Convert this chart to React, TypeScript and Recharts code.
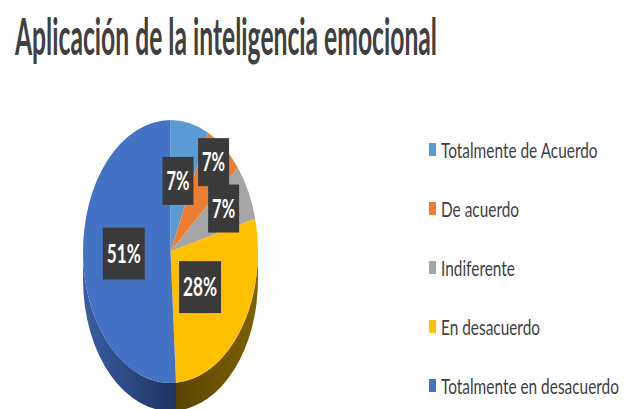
import { PieChart, Pie, Cell, Legend } from 'recharts';

const categories = [
  'Totalmente de Acuerdo',
  'De acuerdo',
  'Indiferente',
  'En desacuerdo',
  'Totalmente en desacuerdo',
];
const values = [7, 7, 7, 28, 51];
const colors = ['#5B9BD5', '#ED7D31', '#A5A5A5', '#FFC000', '#4472C4'];
const sideColors = ['#3f6f9c', '#a8561f', '#777777', 'url(#sideYellow)', 'url(#sideBlue)'];
// how far out (fraction of radius) each data label sits, Excel nudges the small ones apart
const labelRadius = [0.55, 0.86, 0.72, 0.46, 0.5];

const data = categories.map((name, i) => ({ name, value: values[i] }));

const RAD = Math.PI / 180;
const ASPECT = 0.665; // horizontal squash of the tilted pie
const DEPTH = 28;
const TITLE_SQUASH = 0.5;

function pt(cx: number, cy: number, r: number, a: number, dy = 0) {
  return `${cx + r * ASPECT * Math.cos(a * RAD)},${cy + dy - r * Math.sin(a * RAD)}`;
}

function TopSector(props: any) {
  const { cx, cy, outerRadius: r, startAngle, endAngle, fill } = props;
  const large = Math.abs(startAngle - endAngle) > 180 ? 1 : 0;
  const d = `M${cx},${cy} L${pt(cx, cy, r, startAngle)} A${r * ASPECT},${r} 0 ${large} 1 ${pt(cx, cy, r, endAngle)} Z`;
  return <path d={d} fill={fill} stroke="none" />;
}

function SideSector(props: any) {
  const { cx, cy, outerRadius: r, startAngle, endAngle, fill } = props;
  const s = Math.min(startAngle, 0);
  const e = Math.max(endAngle, -180);
  if (s <= e) return <g />;
  const rx = r * ASPECT;
  const d =
    `M${pt(cx, cy, r, s)} A${rx},${r} 0 0 1 ${pt(cx, cy, r, e)} ` +
    `L${pt(cx, cy, r, e, DEPTH)} A${rx},${r} 0 0 0 ${pt(cx, cy, r, s, DEPTH)} Z`;
  return <path d={d} fill={fill} stroke="none" />;
}

function renderLabel(props: any) {
  const { cx, cy, midAngle, outerRadius, percent, index } = props;
  const f = labelRadius[index];
  const x = cx + outerRadius * ASPECT * f * Math.cos(midAngle * RAD) - 3;
  const y = cy - outerRadius * f * Math.sin(midAngle * RAD);
  const text = `${Math.round(percent * 100)}%`;
  const w = text.length * 11 + 9;
  const h = percent < 0.1 ? 48 : 52;
  return (
    <g>
      <rect x={x - w / 2} y={y - h / 2} width={w} height={h} fill="#3a3a3a" />
      <text
        x={x}
        y={y + 9}
        textAnchor="middle"
        fill="#ffffff"
        fontFamily="Lato, 'Open Sans', sans-serif"
        fontWeight={700}
        fontSize={26}
        textLength={w - 8}
        lengthAdjust="spacingAndGlyphs"
      >
        {text}
      </text>
    </g>
  );
}

function LegendContent() {
  return (
    <div>
      {categories.map((c, i) => (
        <div key={c} style={{ display: 'flex', alignItems: 'center', height: 59 }}>
          <div style={{ width: 7, height: 13, background: colors[i], marginRight: 5, flexShrink: 0 }} />
          <span
            style={{
              fontFamily: 'Lato, sans-serif',
              fontSize: 22,
              color: '#404040',
              whiteSpace: 'nowrap',
              display: 'inline-block',
              transform: 'scaleX(0.7)',
              transformOrigin: 'left center',
            }}
          >
            {c}
          </span>
        </div>
      ))}
    </div>
  );
}

export default function App() {
  return (
    <div style={{ position: 'absolute', left: 0, top: 0, width: 625, height: 409, background: '#ffffff', overflow: 'hidden' }}>
      <svg width={625} height={75} style={{ position: 'absolute', left: 0, top: 0 }}>
        <g transform={`translate(15,55) scale(${TITLE_SQUASH},1)`}>
          <text
            x={0}
            y={0}
            fill="#404040"
            fontFamily="Lato, 'Open Sans', sans-serif"
            fontWeight={700}
            fontSize={52}
            textLength={422 / TITLE_SQUASH}
            lengthAdjust="spacingAndGlyphs"
          >
            Aplicación de la inteligencia emocional
          </text>
        </g>
      </svg>
      <div style={{ position: 'absolute', left: 0, top: 0 }}>
        <PieChart width={625} height={409}>
          <defs>
            <linearGradient id="sideBlue" x1="0" y1="0" x2="1" y2="0">
              <stop offset="0%" stopColor="#3a5fa3" />
              <stop offset="100%" stopColor="#1c3260" />
            </linearGradient>
            <linearGradient id="sideYellow" x1="0" y1="0" x2="1" y2="0">
              <stop offset="0%" stopColor="#5a4400" />
              <stop offset="100%" stopColor="#7f6000" />
            </linearGradient>
          </defs>
          <Pie
            data={data}
            dataKey="value"
            nameKey="name"
            cx={165.5}
            cy={246.5}
            outerRadius={131.5}
            startAngle={90}
            endAngle={-270}
            shape={SideSector}
            legendType="none"
            isAnimationActive={false}
          >
            {data.map((d, i) => (
              <Cell key={d.name} fill={sideColors[i]} />
            ))}
          </Pie>
          <Pie
            data={data}
            dataKey="value"
            nameKey="name"
            cx={165.5}
            cy={246.5}
            outerRadius={131.5}
            startAngle={90}
            endAngle={-270}
            shape={TopSector}
            label={renderLabel}
            labelLine={false}
            isAnimationActive={false}
          >
            {data.map((d, i) => (
              <Cell key={d.name} fill={colors[i]} />
            ))}
          </Pie>
          <Legend
            layout="vertical"
            align="right"
            verticalAlign="top"
            content={LegendContent}
            wrapperStyle={{ top: 120, left: 429, width: 196 }}
          />
        </PieChart>
      </div>
    </div>
  );
}
